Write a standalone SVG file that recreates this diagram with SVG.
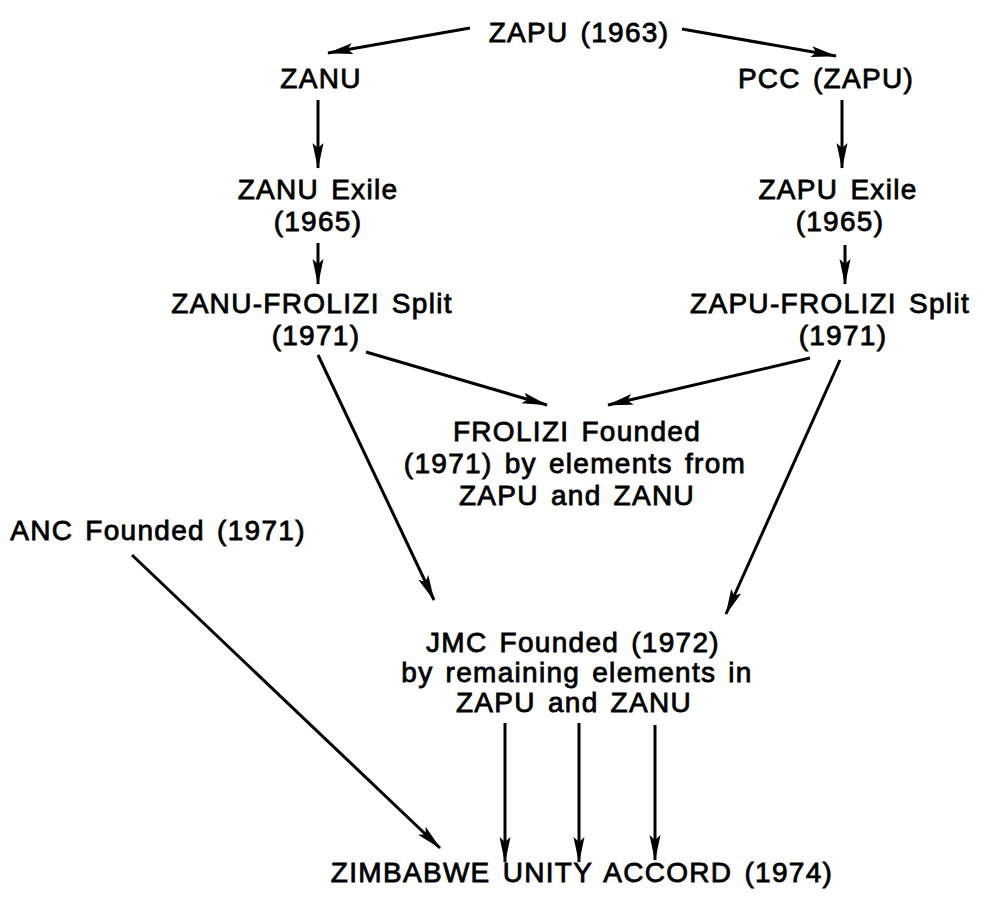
<svg xmlns="http://www.w3.org/2000/svg" width="997" height="909" viewBox="0 0 997 909">
<defs>
<marker id="ah" viewBox="0 0 26 14" refX="25" refY="7" markerWidth="26" markerHeight="14" markerUnits="userSpaceOnUse" orient="auto">
<path d="M0,1.5 L26,7 L0,12.5 L5,7 Z" fill="#000"/>
</marker>
<style>
text{font-family:"Liberation Sans",Arial,sans-serif;font-size:28px;letter-spacing:1.3px;word-spacing:3px;fill:#000;stroke:#000;stroke-width:0.8px;text-anchor:middle}
.c line{stroke:#000;stroke-width:3;marker-end:url(#ah)}
</style>
</defs>
<rect width="997" height="909" fill="#fff"/>
<g id="zapu1963"><text x="579" y="42">ZAPU (1963)</text></g>
<g id="zanu"><text x="321" y="88">ZANU</text></g>
<g id="pcc"><text x="826" y="88">PCC (ZAPU)</text></g>
<g id="zanu-exile"><text x="318" y="199">ZANU Exile</text><text x="318" y="231">(1965)</text></g>
<g id="zapu-exile"><text x="838" y="199">ZAPU Exile</text><text x="840" y="231">(1965)</text></g>
<g id="zanu-split"><text x="312" y="313">ZANU-FROLIZI Split</text><text x="316" y="345">(1971)</text></g>
<g id="zapu-split"><text x="830" y="313">ZAPU-FROLIZI Split</text><text x="843" y="345">(1971)</text></g>
<g id="frolizi"><text x="577" y="441">FROLIZI Founded</text><text x="575" y="473">(1971) by elements from</text><text x="577" y="505">ZAPU and ZANU</text></g>
<g id="anc"><text x="158" y="540">ANC Founded (1971)</text></g>
<g id="jmc"><text x="573" y="652">JMC Founded (1972)</text><text x="577" y="682">by remaining elements in</text><text x="574" y="712">ZAPU and ZANU</text></g>
<g id="accord"><text x="582" y="882">ZIMBABWE UNITY ACCORD (1974)</text></g>
<g class="c" id="connectors">
<line x1="470" y1="28" x2="328" y2="53"/>
<line x1="682" y1="29" x2="836" y2="56"/>
<line x1="318" y1="100" x2="318" y2="168"/>
<line x1="842" y1="100" x2="842" y2="168"/>
<line x1="318" y1="243" x2="318" y2="284"/>
<line x1="845" y1="245" x2="845" y2="284"/>
<line x1="366" y1="352" x2="547" y2="405"/>
<line x1="810" y1="358" x2="608" y2="405"/>
<line x1="318" y1="355" x2="434" y2="600"/>
<line x1="840" y1="360" x2="726" y2="614"/>
<line x1="132" y1="555" x2="440" y2="848"/>
<line x1="505" y1="723" x2="505" y2="862"/>
<line x1="579" y1="723" x2="579" y2="862"/>
<line x1="655" y1="725" x2="655" y2="860"/>
</g>
</svg>
